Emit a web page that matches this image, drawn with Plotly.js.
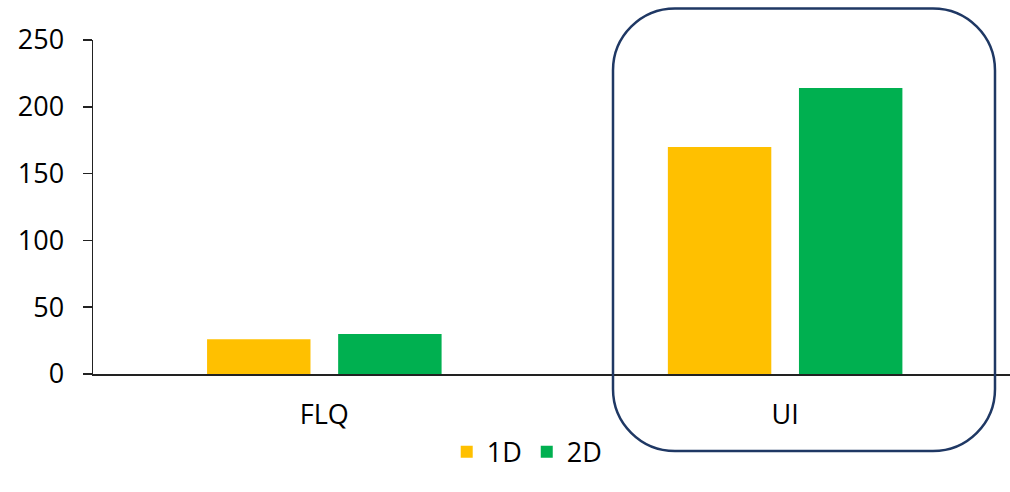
<!DOCTYPE html>
<html>
<head>
<meta charset="utf-8">
<script src="https://cdn.plot.ly/plotly-3.0.1.min.js"></script>
<style>html,body{margin:0;padding:0;background:#fff;}#chart{width:1010px;height:492px;}</style>
</head>
<body>
<div id="chart"></div>
<script>
// ---- data ----
const categories = ["FLQ", "UI"];
const seriesNames = ["1D", "2D"];
const values1D = [26, 170];
const values2D = [30, 214];
const yTicks = [0, 50, 100, 150, 200, 250];

// ---- layout constants ----
const W = 1010, H = 492;
const mL = 93, mR = 0, mT = 40, mB = 118;
const plotW = W - mL - mR, plotH = H - mT - mB;
const px = x => (x - mL) / plotW;
const py = y => (H - mB - y) / plotH;

function roundRect(L, T, R, B, r) {
  const k = 0.5523 * r;
  const p = (x, y) => px(x).toFixed(5) + "," + py(y).toFixed(5);
  return "M" + p(L + r, T) +
    " L" + p(R - r, T) +
    " C" + p(R - r + k, T) + " " + p(R, T + r - k) + " " + p(R, T + r) +
    " L" + p(R, B - r) +
    " C" + p(R, B - r + k) + " " + p(R - r + k, B) + " " + p(R - r, B) +
    " L" + p(L + r, B) +
    " C" + p(L + r - k, B) + " " + p(L, B - r + k) + " " + p(L, B - r) +
    " L" + p(L, T + r) +
    " C" + p(L, T + r - k) + " " + p(L + r - k, T) + " " + p(L + r, T) + " Z";
}

const font = {family: "'Open Sans', 'Liberation Sans', sans-serif", size: 27, color: "#000"};

const traces = [
  {type: "bar", name: seriesNames[0], x: categories, y: values1D, marker: {color: "#FFC000"}, hoverinfo: "skip"},
  {type: "bar", name: seriesNames[1], x: categories, y: values2D, marker: {color: "#00B050"}, hoverinfo: "skip"}
];

const layout = {
  width: W, height: H,
  margin: {l: mL, r: mR, t: mT, b: mB, pad: 0},
  paper_bgcolor: "#fff", plot_bgcolor: "#fff",
  font: font,
  barmode: "group",
  bargap: 0.431,
  bargroupgap: 0.211,
  showlegend: true,
  legend: {
    orientation: "h",
    xref: "container", yref: "container",
    x: 0.522, xanchor: "center",
    y: 0.081, yanchor: "middle",
    font: font,
    itemclick: false
  },
  xaxis: {
    type: "category",
    range: [-0.502, 1.488],
    showline: true, linecolor: "#222", linewidth: 1.5,
    ticks: "", showgrid: false, zeroline: false,
    tickfont: font,
    ticklabelstandoff: 16
  },
  yaxis: {
    range: [0, 250],
    tickvals: yTicks,
    ticktext: yTicks.map(String),
    showline: true, linecolor: "#222", linewidth: 1.5,
    ticks: "outside", ticklen: 9, tickwidth: 1.5, tickcolor: "#222",
    showgrid: false, zeroline: false,
    tickfont: font,
    ticklabelstandoff: 13
  },
  shapes: [{
    type: "path", xref: "paper", yref: "paper",
    path: roundRect(613, 8.5, 995, 451, 62),
    line: {color: "#1F3864", width: 2.5},
    fillcolor: "rgba(0,0,0,0)",
    layer: "above"
  }]
};

Plotly.newPlot("chart", traces, layout, {staticPlot: true, displayModeBar: false});
</script>
</body>
</html>
